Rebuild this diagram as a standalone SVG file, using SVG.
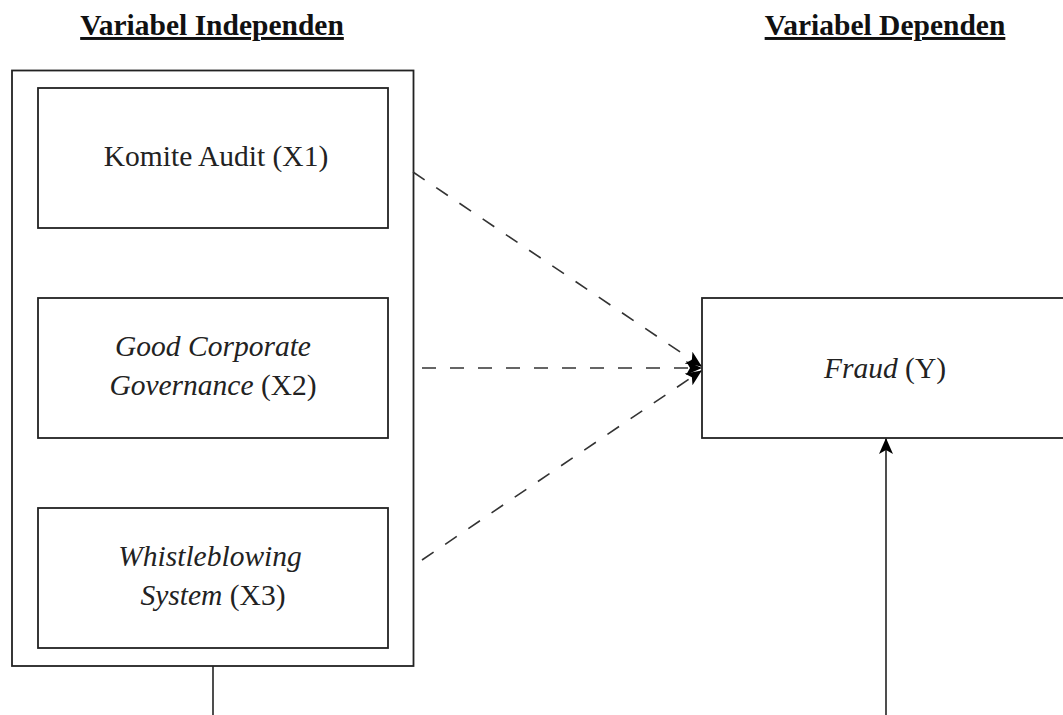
<svg xmlns="http://www.w3.org/2000/svg" width="1063" height="715" viewBox="0 0 1063 715">
<defs>
<style>
.box{fill:#fff;stroke:#222;stroke-width:1.8}
.t{font-family:"Liberation Serif","Times New Roman",serif;font-size:29.5px;fill:#222;text-anchor:middle}
.h{font-family:"Liberation Serif","Times New Roman",serif;font-size:29.5px;font-weight:bold;fill:#111;text-anchor:middle;text-decoration:underline}
.i{font-style:italic}
.dash{fill:none;stroke:#333;stroke-width:1.6;stroke-dasharray:14 14}
.solid{fill:none;stroke:#222;stroke-width:1.6}
</style>
<marker id="ah" viewBox="0 0 16 16" markerWidth="16" markerHeight="16" refX="15" refY="8" orient="auto" markerUnits="userSpaceOnUse">
<path d="M0,1 L16,8 L0,15 L4,8 z" fill="#000"/>
</marker>
</defs>
<rect width="1063" height="715" fill="#fff"/>
<text class="h" x="212" y="35">Variabel Independen</text>
<text class="h" x="885" y="35">Variabel Dependen</text>
<g id="independen">
<rect class="box" x="12" y="70.5" width="401.5" height="595.5"/>
</g>
<g id="x1">
<rect class="box" x="38" y="88" width="350" height="140"/>
<text class="t" x="216" y="166">Komite Audit (X1)</text>
</g>
<g id="x2">
<rect class="box" x="38" y="298" width="350" height="140"/>
<text class="t" x="213" y="356"><tspan class="i">Good Corporate</tspan></text>
<text class="t" x="213" y="395"><tspan class="i">Governance</tspan> (X2)</text>
</g>
<g id="x3">
<rect class="box" x="38" y="508" width="350" height="140"/>
<text class="t" x="210" y="566"><tspan class="i">Whistleblowing</tspan></text>
<text class="t" x="213" y="605"><tspan class="i">System</tspan> (X3)</text>
</g>
<g id="y">
<rect class="box" x="702" y="298" width="380" height="140"/>
<text class="t" x="885" y="378"><tspan class="i">Fraud</tspan> (Y)</text>
</g>
<g id="connectors">
<path class="dash" d="M413,172 L701,366" marker-end="url(#ah)"/>
<path class="dash" d="M422,368 L701,368" marker-end="url(#ah)"/>
<path class="dash" d="M422,560 L701,371" marker-end="url(#ah)"/>
<path class="solid" d="M213,666 L213,715"/>
<path class="solid" d="M886,715 L886,439" marker-end="url(#ah)"/>
</g>
</svg>
